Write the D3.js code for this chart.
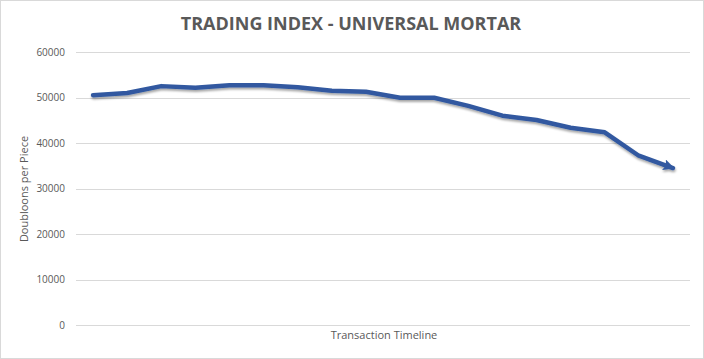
<!DOCTYPE html>
<html>
<head>
<meta charset="utf-8">
<script src="https://cdn.jsdelivr.net/npm/d3@7"></script>
<style>
  body { margin: 0; background: #fff; }
  text { font-family: "Open Sans", "DejaVu Sans", sans-serif; }
</style>
</head>
<body>
<div id="chart"></div>
<script>
// trading index values, one per transaction
var periods = d3.range(1, 19);
var prices = [50500, 51000, 52500, 52150, 52700, 52700, 52250, 51500, 51250,
  49950, 49950, 48150, 46000, 45050, 43350, 42350, 37200, 34500];
var yTicks = [0, 10000, 20000, 30000, 40000, 50000, 60000];

var width = 704, height = 359;
var plot = {left: 76, right: 690, top: 52, bottom: 325};

var svg = d3.select("#chart").append("svg")
  .attr("width", width)
  .attr("height", height);

svg.append("rect")
  .attr("x", 0.5).attr("y", 0.5)
  .attr("width", width - 1).attr("height", height - 1)
  .attr("fill", "#fff")
  .attr("stroke", "#d9d9d9");

var defs = svg.append("defs");
var shadow = defs.append("filter").attr("id", "shadow")
  .attr("x", "-5%").attr("y", "-20%").attr("width", "110%").attr("height", "140%");
shadow.append("feDropShadow")
  .attr("dx", 0.5).attr("dy", 2).attr("stdDeviation", 1.2)
  .attr("flood-color", "#000").attr("flood-opacity", 0.35);

defs.append("marker")
  .attr("id", "arrow")
  .attr("viewBox", "0 0 10 10")
  .attr("refX", 8.5).attr("refY", 5)
  .attr("markerWidth", 2.5).attr("markerHeight", 2.5)
  .attr("markerUnits", "strokeWidth")
  .attr("orient", "auto")
  .append("path")
  .attr("d", "M0,0 L10,5 L0,10 L2,5 z")
  .attr("fill", "#3159a0");

var x = d3.scaleBand()
  .domain(periods)
  .range([plot.left, plot.right]);

var y = d3.scaleLinear()
  .domain([0, 60000])
  .range([plot.bottom, plot.top]);

// gridlines
svg.append("g")
  .selectAll("line")
  .data(yTicks)
  .enter().append("line")
  .attr("x1", plot.left).attr("x2", plot.right)
  .attr("y1", function (d) { return Math.round(y(d)) + 0.5; })
  .attr("y2", function (d) { return Math.round(y(d)) + 0.5; })
  .attr("stroke", "#d9d9d9")
  .attr("stroke-width", 1);

// y axis labels
var yAxis = d3.axisLeft(y).tickValues(yTicks).tickSize(0).tickPadding(11)
  .tickFormat(d3.format("d"));
var yg = svg.append("g")
  .attr("transform", "translate(" + plot.left + ",0)")
  .call(yAxis);
yg.select(".domain").remove();
yg.selectAll("text")
  .attr("fill", "#595959")
  .style("font-size", "10px");

// title
svg.append("text")
  .attr("x", 351).attr("y", 30)
  .attr("text-anchor", "middle")
  .attr("fill", "#595959")
  .style("font-size", "18px")
  .style("font-weight", "bold")
  .text("TRADING INDEX - UNIVERSAL MORTAR");

// axis titles
svg.append("text")
  .attr("transform", "translate(28,189) rotate(-90)")
  .attr("text-anchor", "middle")
  .attr("fill", "#595959")
  .style("font-size", "11px")
  .text("Doubloons per Piece");

svg.append("text")
  .attr("x", 384).attr("y", 339)
  .attr("text-anchor", "middle")
  .attr("fill", "#595959")
  .style("font-size", "11px")
  .text("Transaction Timeline");

// series line
var line = d3.line()
  .x(function (d, i) { return x(periods[i]) + x.bandwidth() / 2; })
  .y(function (d) { return y(d); });

svg.append("path")
  .datum(prices)
  .attr("d", line)
  .attr("fill", "none")
  .attr("stroke", "#3159a0")
  .attr("stroke-width", 4.5)
  .attr("stroke-linejoin", "round")
  .attr("stroke-linecap", "round")
  .attr("marker-end", "url(#arrow)")
  .attr("filter", "url(#shadow)");
</script>
</body>
</html>
